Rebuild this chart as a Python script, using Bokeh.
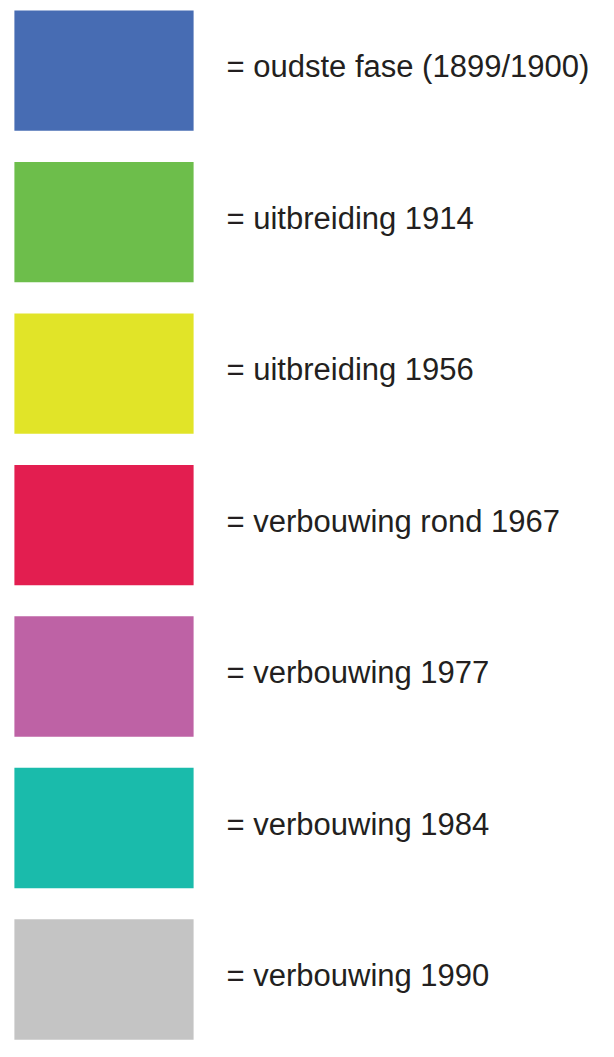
from bokeh.plotting import figure
from bokeh.models import Range1d, ColumnDataSource
from bokeh.core.properties import value
from bokeh.embed import file_html
from bokeh.resources import INLINE

labels = [
    "= oudste fase (1899/1900)",
    "= uitbreiding 1914",
    "= uitbreiding 1956",
    "= verbouwing rond 1967",
    "= verbouwing 1977",
    "= verbouwing 1984",
    "= verbouwing 1990",
]
colors = ["#476CB3", "#6DBE4B", "#E1E428", "#E31E50", "#BE62A5", "#1ABBAB", "#C4C4C4"]
rows = list(range(len(labels)))

src = ColumnDataSource(dict(row=rows, label=labels, color=colors))

W, H = 598, 1041
p = figure(width=W, height=H, output_backend="svg", toolbar_location=None,
           x_range=Range1d(0, W), y_range=Range1d(6.409, -0.463),
           min_border=0)
p.axis.visible = False
p.grid.visible = False
p.outline_line_color = None
p.background_fill_color = "white"
p.border_fill_color = "white"

p.rect(x=103.5, y="row", width=179.2, height=0.795, fill_color="color",
       line_color=None, source=src)
p.text(x=226, y="row", y_offset=-4, text="label", text_font=value("Liberation Sans"),
       text_font_size="31px", text_color="#231F20", text_baseline="middle",
       text_align="left", source=src)

open("out.html", "w").write(file_html(p, INLINE))
